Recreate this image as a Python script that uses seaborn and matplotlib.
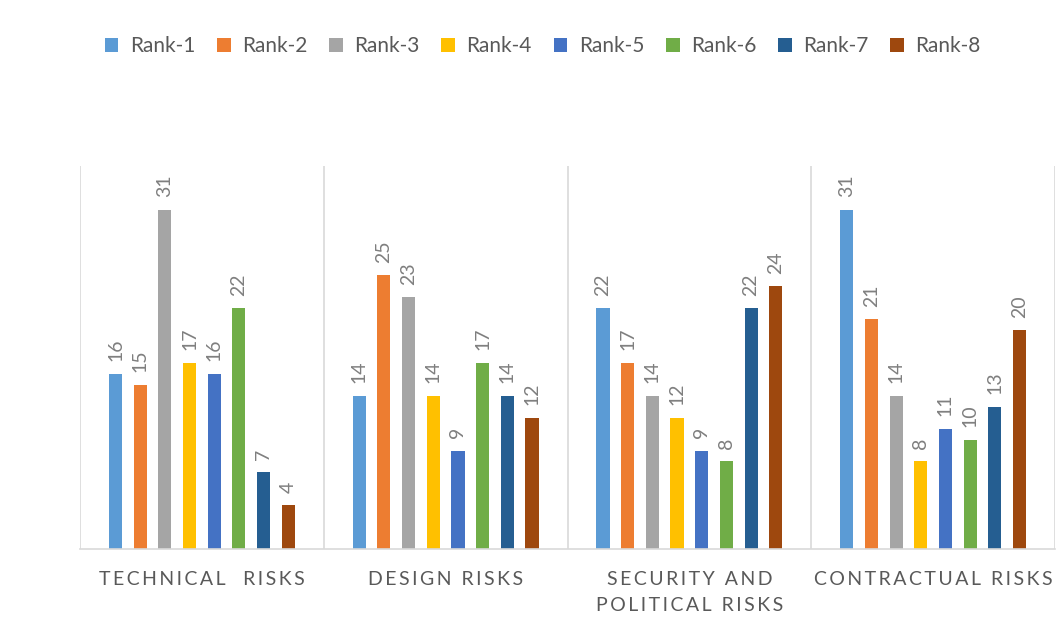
import matplotlib
matplotlib.use("Agg")
import matplotlib.pyplot as plt
import seaborn as sns
import pandas as pd
from matplotlib.patches import Patch

categories = ["TECHNICAL  RISKS", "DESIGN RISKS", "SECURITY AND\nPOLITICAL RISKS", "CONTRACTUAL RISKS"]
ranks = ["Rank-1", "Rank-2", "Rank-3", "Rank-4", "Rank-5", "Rank-6", "Rank-7", "Rank-8"]
technical = [16, 15, 31, 17, 16, 22, 7, 4]
design = [14, 25, 23, 14, 9, 17, 14, 12]
security = [22, 17, 14, 12, 9, 8, 22, 24]
contractual = [31, 21, 14, 8, 11, 10, 13, 20]
colors = ["#5B9BD5", "#ED7D31", "#A5A5A5", "#FFC000", "#4472C4", "#70AD47", "#255E91", "#9E480E"]

rows = []
for cat, vals in zip(categories, [technical, design, security, contractual]):
    for r, v in zip(ranks, vals):
        rows.append({"category": cat, "rank": r, "value": v})
df = pd.DataFrame(rows)

sns.set_style("white")
plt.rcParams["font.family"] = ["Lato", "DejaVu Sans"]

fig = plt.figure(figsize=(10.6, 6.17), dpi=100)
ax = fig.add_axes([80 / 1060, 1 - 549 / 617, 975 / 1060, (549 - 166) / 617])

sns.barplot(data=df, x="category", y="value", hue="rank", hue_order=ranks,
            order=categories, palette=colors, width=0.81, gap=0.47,
            saturation=1, linewidth=0, ax=ax, legend=False)

for cont in ax.containers:
    ax.bar_label(cont, rotation=90, padding=9, fontsize=14, color="#7F7F7F")

ax.set_ylim(0, 35)
ax.set_xlim(-0.5, 3.5)
for x in [-0.5, 0.5, 1.5, 2.5, 3.5]:
    ax.axvline(x, color="#D9D9D9", lw=1.2, zorder=0)

for s in ["top", "left", "right"]:
    ax.spines[s].set_visible(False)
ax.spines["bottom"].set_color("#D9D9D9")
ax.spines["bottom"].set_linewidth(1.2)

ax.set_yticks([])
ax.set_xlabel("")
ax.set_ylabel("")

def spaced(text):
    return "\n".join("\u2009".join(line) for line in text.split("\n"))

ax.set_xticks(range(len(categories)))
ax.set_xticklabels([spaced(c) for c in categories], fontsize=14, color="#595959",
                   linespacing=1.6)
ax.tick_params(axis="x", length=0, pad=16)

handles = [Patch(facecolor=c, edgecolor="none") for c in colors]
fig.legend(handles, ranks, loc="center", bbox_to_anchor=(0.512, 0.925), ncol=8,
           frameon=False, fontsize=15, handlelength=0.65, handleheight=0.65,
           handletextpad=0.55, columnspacing=1.05, labelcolor="#595959")

fig.savefig("out.png", dpi=100)
